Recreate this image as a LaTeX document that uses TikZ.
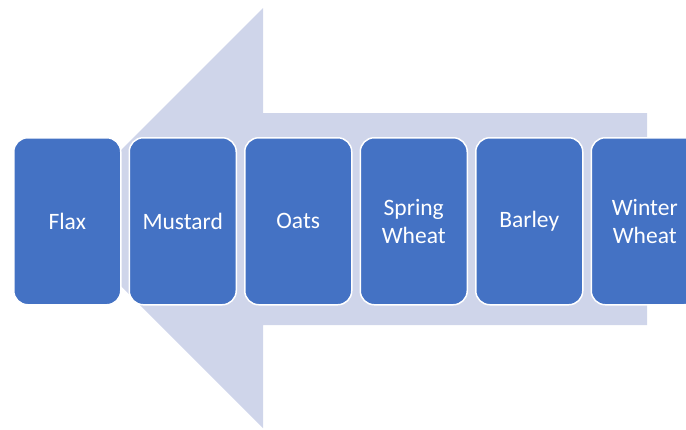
\documentclass[tikz,border=0pt]{standalone}
\usepackage{fontspec}
\setmainfont{Carlito}
\definecolor{boxblue}{HTML}{4472C4}
\definecolor{arrowfill}{HTML}{CFD5EA}
\begin{document}
\begin{tikzpicture}[x=1pt,y=-1pt,
  cropbox/.style={draw=white,line width=1.5pt,fill=boxblue,rounded corners=14pt,
    minimum width=107pt,minimum height=167pt,inner sep=0pt,anchor=north west,
    text=white,font=\fontsize{23.5}{28}\selectfont,align=center}]
\useasboundingbox (0,0) rectangle (686,429);
\clip (0,0) rectangle (686,429);
\fill[arrowfill] (53,218) -- (263,8) -- (263,113) -- (647,113) -- (647,325) -- (263,325) -- (263,428) -- cycle;
\node[cropbox] (flax) at (13,137) {Flax};
\node[cropbox] (mustard) at (128.5,137) {Mustard};
\node[cropbox] (oats) at (244,137) {Oats};
\node[cropbox] (spring) at (359.5,137) {Spring\\Wheat};
\node[cropbox] (barley) at (475,137) {Barley};
\node[cropbox] (winter) at (590.5,137) {Winter\\Wheat};
\end{tikzpicture}
\end{document}
